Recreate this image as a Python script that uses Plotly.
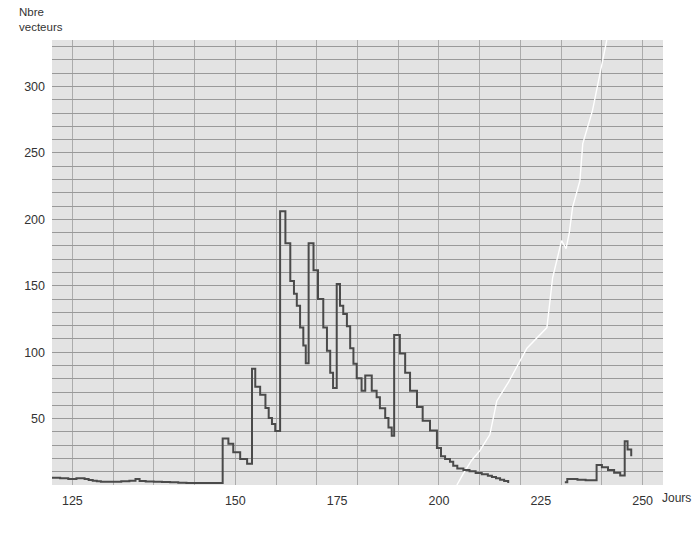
import plotly.graph_objects as go

# ---- data ----
# Step series (Nbre vecteurs) : day at which each level starts, and level
DAYS_A = [105, 107, 109, 111, 113, 114, 115, 116, 117, 120, 122, 124, 125.5, 126.5, 128, 130, 132, 134, 136, 138,
          146.9, 148.3, 149.5, 151.2, 152.9,
          154.1, 154.9, 156.1, 157.4, 158.2, 159.0, 159.8,
          161.0, 162.3, 163.5, 164.4, 165.1, 165.9, 166.7, 167.3,
          168.0, 169.2, 170.3, 171.6, 172.5, 173.3, 174.0,
          174.9, 175.7, 176.5, 177.4, 178.2, 179.0, 179.8, 181.0, 181.9, 183.5, 184.7, 185.5, 186.8, 187.6, 188.4,
          189.0, 190.4, 191.7, 192.9, 194.6, 196.0, 197.8, 199.5, 200.5, 201.5, 202.7, 203.5, 204.5, 206.0,
          207.5, 209.0, 210.5, 212.0, 213.0, 214.0, 215.0, 216.0, 217.0]
VALS_A = [5.5, 5, 4.5, 5, 4.5, 3.8, 3.2, 2.8, 2.5, 2.5, 2.8, 3.2, 4.5, 3, 2.7, 2.5, 2.3, 2, 1.6, 1.5,
          35, 31, 24.7, 19.6, 16,
          87.5, 74, 68, 58, 50.5, 46, 40.7,
          206, 182, 153.5, 144, 135, 118.5, 105, 91.7,
          182, 161.7, 140, 118.5, 101, 84.5, 73,
          151.4, 135, 128.7, 119.5, 103, 91.3, 80.3, 71, 82.4, 71, 66, 57.7, 50.5, 43.3, 37,
          113, 99, 84.5, 71, 58.7, 48.4, 41, 27.8, 21.6, 19.6, 17.5, 14.4, 12.4, 11.3,
          10.3, 9, 8, 7, 6, 5, 4, 3, 1.5]

DAYS_B = [230.9, 231.5, 234.0, 236.0, 238.7, 240.0, 241.5, 243.0, 244.5, 245.6, 246.3, 247.2]
VALS_B = [2, 4.5, 4, 3.5, 15, 13.4, 11.3, 9.3, 7.2, 33, 26.8, 21.6]

# White (cumulative-like) curve
WHITE_DAYS = [204.4, 205.9, 208.0, 210.0, 212.5, 214.2, 217.0, 219.9, 221.6, 226.5, 227.9, 230.1,
              231.2, 232.0, 232.8, 234.6, 235.3, 237.7, 239.0, 241.2]
WHITE_VALS = [0, 8.2, 18.5, 25.7, 38, 63.3, 77, 93.7, 103, 118.5, 156, 184,
              178, 190, 209, 229, 257, 282, 302, 335]

# Tick labels
Y_TICKS = [50, 100, 150, 200, 250, 300]
X_TICK_POS = [110, 150, 175, 200, 225, 250]
X_TICK_TEXT = ["125", "150", "175", "200", "225", "250"]

# ---- figure ----
step_x = DAYS_A + [None] + DAYS_B
step_y = VALS_A + [None] + VALS_B

fig = go.Figure()
fig.add_trace(go.Scatter(x=WHITE_DAYS, y=WHITE_VALS, mode="lines",
                         line=dict(color="#ffffff", width=1.4),
                         hoverinfo="skip", showlegend=False))
fig.add_trace(go.Scatter(x=step_x, y=step_y, mode="lines", line_shape="hv",
                         connectgaps=False,
                         line=dict(color="#4a4a4a", width=2),
                         showlegend=False))

fig.update_layout(
    width=700, height=544,
    margin=dict(l=52, r=37, t=40, b=59),
    paper_bgcolor="#ffffff",
    plot_bgcolor="#e3e3e3",
    font=dict(family="Liberation Sans, Arial, sans-serif", size=12.5, color="#333333"),
    xaxis=dict(range=[105, 255], tickmode="array", tickvals=X_TICK_POS, ticktext=X_TICK_TEXT,
               showgrid=False, zeroline=False, showline=False, ticks="",
               ticklabelstandoff=6,
               minor=dict(tickmode="linear", tick0=0, dtick=10, showgrid=True,
                          gridcolor="#ababab", gridwidth=1, ticks="")),
    yaxis=dict(range=[0, 335], tickmode="array", tickvals=Y_TICKS,
               showgrid=False, zeroline=False, showline=False, ticks="",
               ticklabelstandoff=6,
               minor=dict(tickmode="linear", tick0=0, dtick=10, showgrid=True,
                          gridcolor="#999999", gridwidth=1, ticks="")),
    annotations=[
        dict(text="Nbre<br>vecteurs", xref="paper", yref="paper", x=-0.057, y=1.08,
             xanchor="left", yanchor="top", align="left", showarrow=False,
             font=dict(size=11.5, color="#333333")),
        dict(text="Jours", xref="paper", yref="paper", x=0.995, y=-0.029,
             xanchor="left", yanchor="middle", showarrow=False,
             font=dict(size=12, color="#333333")),
    ],
)

fig.write_html("out.html")
